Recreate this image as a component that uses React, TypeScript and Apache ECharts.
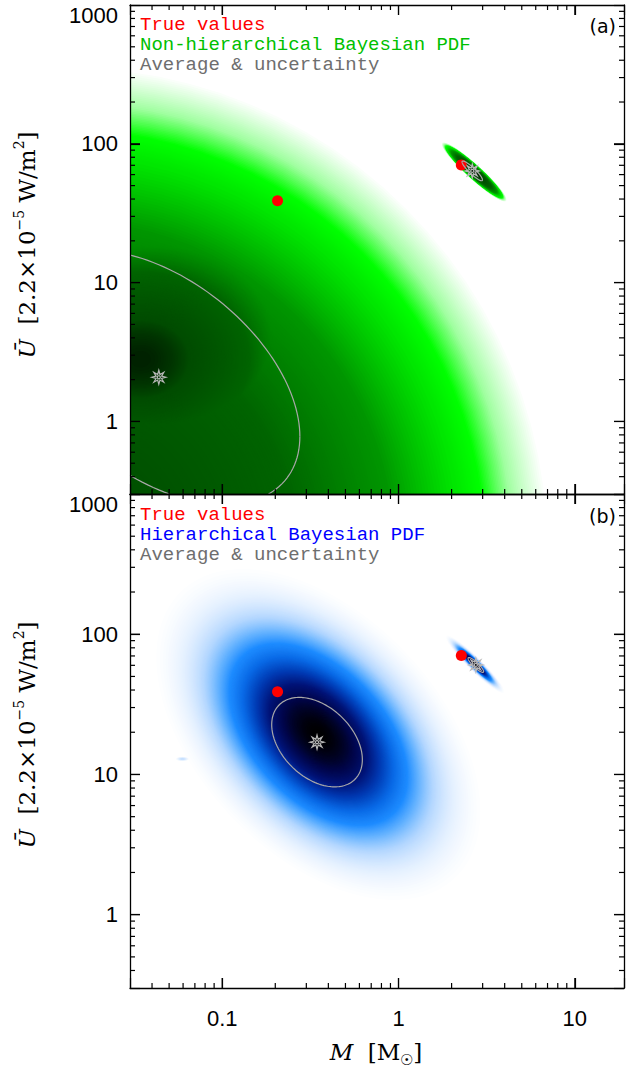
import React, { useEffect, useRef } from 'react';
import * as echarts from 'echarts';

// ---------- axes ----------
const X_RANGE = [0.03, 19];
const Y_RANGE = [0.3, 1000];
const X_MAJOR = [0.1, 1, 10];
const Y_MAJOR = [1, 10, 100];
const X_MINOR = [0.04, 0.05, 0.06, 0.07, 0.08, 0.09, 0.2, 0.3, 0.4, 0.5, 0.6, 0.7, 0.8, 0.9, 2, 3, 4, 5, 6, 7, 8, 9];
const Y_MINOR = [0.4, 0.5, 0.6, 0.7, 0.8, 0.9, 2, 3, 4, 5, 6, 7, 8, 9, 20, 30, 40, 50, 60, 70, 80, 90, 200, 300, 400, 500, 600, 700, 800, 900];

// ---------- true values (red dots) ----------
const TRUE_M = [0.206, 2.27];
const TRUE_U = [38.9, 70.5];

// ---------- averages (gray stars) ----------
const AVG_A_M = [0.0437, 2.62];
const AVG_A_U = [2.08, 63.8];
const AVG_B_M = [0.345, 2.745];
const AVG_B_U = [17.0, 60.4];

// ---------- 1-sigma uncertainty: [sigma log10 M, sigma log10 U, correlation] ----------
const UNC_A = [[0.8, 0.916, -0.465], [0.058, 0.071, -0.91]];
const UNC_B = [[0.257, 0.319, -0.39], [0.044, 0.053, -0.89]];

// ---------- PDF components: [M, U, sigma log10 M, sigma log10 U, correlation, peak] ----------
const PDF_A_MAIN = [0.0129, 0.118, 1.36, 1.73, 0, 0.86];
const PDF_A_CORE = [0.0344, 2.81, 0.57, 0.58, 0, 0.97];
const PDF_A_SMALL = [2.685, 62.7, 0.088, 0.102, -0.947, 1.0];
const PDF_B_MAIN = [0.351, 19.3, 0.317, 0.407, -0.465, 1.0];
const PDF_B_SMALL = [2.72, 61.0, 0.057, 0.071, -0.95, 1.0];
const PDF_B_SPECK = [0.0595, 12.9, 0.02, 0.008, 0, 0.1];

// ---------- colour tables (PDF level -> colour) ----------
const GREEN_STOPS: [number, string][] = [
  [0.112, '#ffffff'], [0.15, '#a0ffa0'], [0.185, '#00ff00'], [0.25, '#00d200'],
  [0.335, '#009600'], [0.54, '#006400'], [0.86, '#004c00'], [0.95, '#002a00'], [1.0, '#001000'],
];
const BLUE_STOPS: [number, string][] = [
  [0.012, '#ffffff'], [0.05, '#e6f1ff'], [0.12, '#b4d7ff'], [0.2, '#64b2ff'], [0.28, '#1e8cff'],
  [0.4, '#0a6ae6'], [0.55, '#0038b0'], [0.68, '#001478'], [0.82, '#00064a'], [1.0, '#000000'],
];

// ---------- texts ----------
const LEGEND_A = ['True values', 'Non-hierarchical Bayesian PDF', 'Average & uncertainty'];
const LEGEND_B = ['True values', 'Hierarchical Bayesian PDF', 'Average & uncertainty'];
const LEGEND_A_COLORS = ['#ff0000', '#00c000', '#6e6e6e'];
const LEGEND_B_COLORS = ['#ff0000', '#0000ff', '#6e6e6e'];
const PANEL_TAGS = ['(a)', '(b)'];

function makeLevels(lo: number, mid: number, fine: number, coarse: number): number[] {
  const out: number[] = [];
  for (let l = lo + fine; l < mid; l += fine) out.push(l);
  for (let l = mid; l < 0.999; l += coarse) out.push(l);
  return out;
}
const LEVELS_GREEN = makeLevels(0.112, 0.22, 0.002, 0.005);
const LEVELS_BLUE = makeLevels(0.012, 0.3, 0.003, 0.005);

function hexToRgb(h: string) {
  const n = parseInt(h.slice(1), 16);
  return [(n >> 16) & 255, (n >> 8) & 255, n & 255];
}
function rampColor(stops: [number, string][], v: number) {
  if (v <= stops[0][0]) return stops[0][1];
  for (let i = 1; i < stops.length; i++) {
    if (v <= stops[i][0]) {
      const [a, ca] = stops[i - 1];
      const [b, cb] = stops[i];
      const t = (v - a) / (b - a);
      const A = hexToRgb(ca);
      const B = hexToRgb(cb);
      const c = A.map((x, j) => Math.round(x + (B[j] - x) * t));
      return `rgb(${c[0]},${c[1]},${c[2]})`;
    }
  }
  return stops[stops.length - 1][1];
}

function ellipsePts(api: any, c: number[], k: number, n = 90) {
  const [m, u, sa, sb, rho] = c;
  const lm = Math.log10(m);
  const lu = Math.log10(u);
  const q = Math.sqrt(1 - rho * rho);
  const pts: number[][] = [];
  for (let i = 0; i < n; i++) {
    const t = (2 * Math.PI * i) / n;
    const z1 = Math.cos(t);
    const z2 = Math.sin(t);
    const lx = lm + k * sa * z1;
    const ly = lu + k * sb * (rho * z1 + q * z2);
    pts.push(api.coord([Math.pow(10, lx), Math.pow(10, ly)]));
  }
  return pts;
}

type Rect = { x: number; y: number; width: number; height: number };
function clipPolygon(pts: number[][], r: Rect) {
  const xmin = r.x, xmax = r.x + r.width, ymin = r.y, ymax = r.y + r.height;
  const clips: [(p: number[]) => boolean, (a: number[], b: number[]) => number[]][] = [
    [(p) => p[0] >= xmin, (a, b) => { const t = (xmin - a[0]) / (b[0] - a[0]); return [xmin, a[1] + t * (b[1] - a[1])]; }],
    [(p) => p[0] <= xmax, (a, b) => { const t = (xmax - a[0]) / (b[0] - a[0]); return [xmax, a[1] + t * (b[1] - a[1])]; }],
    [(p) => p[1] >= ymin, (a, b) => { const t = (ymin - a[1]) / (b[1] - a[1]); return [a[0] + t * (b[0] - a[0]), ymin]; }],
    [(p) => p[1] <= ymax, (a, b) => { const t = (ymax - a[1]) / (b[1] - a[1]); return [a[0] + t * (b[0] - a[0]), ymax]; }],
  ];
  let out = pts;
  for (const [inside, inter] of clips) {
    const inp = out;
    out = [];
    if (!inp.length) break;
    let prev = inp[inp.length - 1];
    for (const cur of inp) {
      const ci = inside(cur);
      const pi = inside(prev);
      if (ci) {
        if (!pi) out.push(inter(prev, cur));
        out.push(cur);
      } else if (pi) out.push(inter(prev, cur));
      prev = cur;
    }
  }
  return out;
}
function clipSeg(a: number[], b: number[], r: Rect) {
  let t0 = 0, t1 = 1;
  const dx = b[0] - a[0], dy = b[1] - a[1];
  const p = [-dx, dx, -dy, dy];
  const q = [a[0] - r.x, r.x + r.width - a[0], a[1] - r.y, r.y + r.height - a[1]];
  for (let i = 0; i < 4; i++) {
    if (p[i] === 0) {
      if (q[i] < 0) return null;
    } else {
      const t = q[i] / p[i];
      if (p[i] < 0) {
        if (t > t1) return null;
        if (t > t0) t0 = t;
      } else {
        if (t < t0) return null;
        if (t < t1) t1 = t;
      }
    }
  }
  return [[a[0] + t0 * dx, a[1] + t0 * dy], [a[0] + t1 * dx, a[1] + t1 * dy]];
}
function clipPolyline(pts: number[][], r: Rect) {
  const runs: number[][][] = [];
  let cur: number[][] | null = null;
  for (let i = 0; i < pts.length - 1; i++) {
    const seg = clipSeg(pts[i], pts[i + 1], r);
    if (!seg) {
      if (cur) { runs.push(cur); cur = null; }
      continue;
    }
    if (cur && Math.abs(cur[cur.length - 1][0] - seg[0][0]) < 1e-6 && Math.abs(cur[cur.length - 1][1] - seg[0][1]) < 1e-6) {
      cur.push(seg[1]);
    } else {
      if (cur) runs.push(cur);
      cur = [seg[0], seg[1]];
    }
  }
  if (cur) runs.push(cur);
  return runs;
}

const STAR_PATH = (() => {
  const pts: string[] = [];
  for (let i = 0; i < 16; i++) {
    const a = (i * Math.PI) / 8 - Math.PI / 2;
    const r = i % 2 === 0 ? 10 : 4.3;
    pts.push(`${(10 + r * Math.cos(a)).toFixed(2)} ${(10 + r * Math.sin(a)).toFixed(2)}`);
  }
  return 'path://M' + pts.join(' L') + ' Z M12.2 10 A2.2 2.2 0 1 1 7.8 10 A2.2 2.2 0 1 1 12.2 10 Z';
})();

const fmtTick = (v: number) => {
  const l = Math.log10(v);
  const r = Math.round(l);
  if (Math.abs(l - r) > 1e-6) return '';
  const s = r < 0 ? Math.pow(10, r).toFixed(-r) : String(Math.round(Math.pow(10, r)));
  return r === 3 ? `{top|${s}}` : s;
};

const GRIDS = [
  { left: 130, top: 5, width: 494, height: 489, outerBoundsMode: 'none' },
  { left: 130, top: 494, width: 494, height: 494, outerBoundsMode: 'none' },
];

function xAxisCfg(grid: number, position: string, showLabel: boolean, visible: boolean) {
  return {
    type: 'log', logBase: 10, gridIndex: grid, position, min: X_RANGE[0], max: X_RANGE[1], z: 10,
    axisLine: { show: visible, onZero: false, lineStyle: { color: '#000', width: 1.3 } },
    axisTick: { show: visible, inside: true, length: 10, lineStyle: { color: '#000', width: 1.2 } },
    minorTick: { show: false }, splitLine: { show: false }, minorSplitLine: { show: false },
    axisLabel: { show: showLabel && visible, margin: 19, color: '#000', fontSize: 22, formatter: fmtTick },
  };
}
function yAxisCfg(grid: number, position: string, showLabel: boolean, visible: boolean) {
  return {
    type: 'log', logBase: 10, gridIndex: grid, position, min: Y_RANGE[0], max: Y_RANGE[1], z: 10,
    axisLine: { show: visible, onZero: false, lineStyle: { color: '#000', width: 1.3 } },
    axisTick: { show: visible, inside: true, length: 10, lineStyle: { color: '#000', width: 1.2 } },
    minorTick: { show: false }, splitLine: { show: false }, minorSplitLine: { show: false },
    axisLabel: {
      show: showLabel && visible, margin: 12, color: '#000', fontSize: 22, formatter: fmtTick,
      rich: { top: { padding: [20, 0, 0, 0], fontSize: 22, color: '#000' } },
    },
  };
}
function axesFor(visible: boolean) {
  return {
    grid: GRIDS,
    xAxis: [xAxisCfg(0, 'bottom', false, visible), xAxisCfg(0, 'top', false, visible), xAxisCfg(1, 'bottom', true, visible), xAxisCfg(1, 'top', false, visible)],
    yAxis: [yAxisCfg(0, 'left', true, visible), yAxisCfg(0, 'right', false, visible), yAxisCfg(1, 'left', true, visible), yAxisCfg(1, 'right', false, visible)],
  };
}

function densitySeries(axisIdx: number, blobs: number[][], stops: [number, string][], levels: number[]) {
  return {
    type: 'custom', xAxisIndex: axisIdx, yAxisIndex: axisIdx, z: 2, silent: true,
    data: levels.map((l) => [l, 1]),
    renderItem: (params: any, api: any) => {
      const cs = params.coordSys as Rect;
      const L = api.value(0) as number;
      const fill = rampColor(stops, L);
      const children: any[] = [];
      for (const b of blobs) {
        const amp = b[5];
        if (amp <= L) continue;
        const k = Math.sqrt(2 * Math.log(amp / L));
        const poly = clipPolygon(ellipsePts(api, b, k, 96), cs);
        if (poly.length >= 3) children.push({ type: 'polygon', shape: { points: poly }, style: { fill } });
      }
      return { type: 'group', children };
    },
  };
}

function ellipseSeries(axisIdx: number, ms: number[], us: number[], unc: number[][]) {
  return {
    type: 'custom', xAxisIndex: axisIdx, yAxisIndex: axisIdx, z: 6, silent: true,
    data: ms.map((m, i) => [m, us[i], unc[i][0], unc[i][1], unc[i][2]]),
    renderItem: (params: any, api: any) => {
      const cs = params.coordSys as Rect;
      const c = [api.value(0), api.value(1), api.value(2), api.value(3), api.value(4)] as number[];
      const pts = ellipsePts(api, c, 1, 160);
      pts.push(pts[0]);
      const runs = clipPolyline(pts, cs);
      return {
        type: 'group',
        children: runs.map((r) => ({ type: 'polyline', shape: { points: r }, style: { stroke: '#a8a8a8', lineWidth: 1.2, fill: 'none' } })),
      };
    },
  };
}

function tickSeries(axisIdx: number) {
  const data = [
    ...X_MAJOR.map((v) => [v, Y_RANGE[0], 0, 10]),
    ...X_MINOR.map((v) => [v, Y_RANGE[0], 0, 5]),
    ...Y_MAJOR.map((v) => [X_RANGE[0], v, 1, 10]),
    ...Y_MINOR.map((v) => [X_RANGE[0], v, 1, 5]),
  ];
  return {
    type: 'custom', xAxisIndex: axisIdx, yAxisIndex: axisIdx, z: 12, silent: true,
    data,
    renderItem: (params: any, api: any) => {
      const cs = params.coordSys as Rect;
      const kind = api.value(2);
      const len = api.value(3) as number;
      const st = { stroke: '#000', lineWidth: 1.2 };
      if (kind === 0) {
        const px = api.coord([api.value(0), Y_RANGE[0]])[0];
        const yb = cs.y + cs.height;
        return {
          type: 'group', children: [
            { type: 'line', shape: { x1: px, y1: yb, x2: px, y2: yb - len }, style: { ...st } },
            { type: 'line', shape: { x1: px, y1: cs.y, x2: px, y2: cs.y + len }, style: { ...st } },
          ],
        };
      }
      const py = api.coord([X_RANGE[0], api.value(1)])[1];
      const xr = cs.x + cs.width;
      return {
        type: 'group', children: [
          { type: 'line', shape: { x1: cs.x, y1: py, x2: cs.x + len, y2: py }, style: { ...st } },
          { type: 'line', shape: { x1: xr, y1: py, x2: xr - len, y2: py }, style: { ...st } },
        ],
      };
    },
  };
}

function trueSeries(axisIdx: number) {
  return {
    type: 'scatter', xAxisIndex: axisIdx, yAxisIndex: axisIdx, z: 5, silent: true, clip: false,
    symbol: 'circle', symbolSize: 11,
    itemStyle: { color: '#ff0000', opacity: 1 },
    data: TRUE_M.map((m, i) => [m, TRUE_U[i]]),
  };
}
function starSeries(axisIdx: number, ms: number[], us: number[]) {
  return {
    type: 'scatter', xAxisIndex: axisIdx, yAxisIndex: axisIdx, z: 7, silent: true, clip: false,
    symbol: STAR_PATH, symbolSize: 14, symbolKeepAspect: true,
    itemStyle: { color: 'rgba(0,0,0,0)', borderColor: '#b8b8b8', borderWidth: 1.2, opacity: 1 },
    data: ms.map((m, i) => [m, us[i]]),
  };
}

function legendTexts(texts: string[], colors: string[], y0: number) {
  return texts.map((t, i) => ({
    type: 'text', x: 140, y: y0 + i * 20, z: 100,
    style: { text: t, fill: colors[i], fontFamily: 'Liberation Mono', fontSize: 19, verticalAlign: 'middle', align: 'left' },
  }));
}

const TITLE_FONT = 'DejaVu Serif';
const yTitleRich = {
  i: { fontFamily: TITLE_FONT, fontSize: 23, fontStyle: 'italic', fill: '#000', lineHeight: 30 },
  sup: { fontFamily: TITLE_FONT, fontSize: 14, fill: '#000', verticalAlign: 'top', lineHeight: 14 },
};
function yTitle(cy: number) {
  return {
    type: 'text', x: 27, y: cy, rotation: Math.PI / 2, z: 100,
    style: {
      text: '{i|Ū}  [2.2×10{sup|−5} W/m{sup|2}]', rich: yTitleRich,
      fontFamily: TITLE_FONT, fontSize: 23, fill: '#000', lineHeight: 30, align: 'center', verticalAlign: 'middle',
    },
  };
}

export default function App() {
  const baseRef = useRef<HTMLDivElement>(null);
  const topRef = useRef<HTMLDivElement>(null);
  useEffect(() => {
    if (!baseRef.current || !topRef.current) return;
    const base = echarts.init(baseRef.current, undefined, { renderer: 'svg' });
    base.setOption({
      animation: false,
      backgroundColor: '#ffffff',
      ...axesFor(false),
      series: [
        densitySeries(0, [PDF_A_MAIN, PDF_A_CORE, PDF_A_SMALL], GREEN_STOPS, LEVELS_GREEN),
        densitySeries(2, [PDF_B_MAIN, PDF_B_SMALL, PDF_B_SPECK], BLUE_STOPS, LEVELS_BLUE),
      ],
    });
    const top = echarts.init(topRef.current, undefined, { renderer: 'svg' });
    top.setOption({
      animation: false,
      ...axesFor(true),
      series: [
        trueSeries(0),
        trueSeries(2),
        ellipseSeries(0, AVG_A_M, AVG_A_U, UNC_A),
        ellipseSeries(2, AVG_B_M, AVG_B_U, UNC_B),
        starSeries(0, AVG_A_M, AVG_A_U),
        starSeries(2, AVG_B_M, AVG_B_U),
        tickSeries(0),
        tickSeries(2),
      ],
      graphic: [
        ...legendTexts(LEGEND_A, LEGEND_A_COLORS, 25),
        ...legendTexts(LEGEND_B, LEGEND_B_COLORS, 515),
        { type: 'text', x: 616, y: 26, z: 100, style: { text: PANEL_TAGS[0], fill: '#000', fontFamily: 'DejaVu Sans', fontSize: 19, align: 'right', verticalAlign: 'middle' } },
        { type: 'text', x: 616, y: 516, z: 100, style: { text: PANEL_TAGS[1], fill: '#000', fontFamily: 'DejaVu Sans', fontSize: 19, align: 'right', verticalAlign: 'middle' } },
        yTitle(245),
        yTitle(735),
        {
          type: 'text', x: 376, y: 1052, z: 100,
          style: {
            text: '{i|M}  [M{sub|☉}]',
            rich: {
              i: { fontFamily: TITLE_FONT, fontSize: 23, fontStyle: 'italic', fill: '#000', lineHeight: 30 },
              sub: { fontFamily: TITLE_FONT, fontSize: 15, fill: '#000', verticalAlign: 'bottom', lineHeight: 15 },
            },
            fontFamily: TITLE_FONT, fontSize: 23, fill: '#000', lineHeight: 30, align: 'center', verticalAlign: 'middle',
          },
        },
      ],
    });
    return () => {
      top.dispose();
      base.dispose();
    };
  }, []);
  const box: React.CSSProperties = { position: 'fixed', left: 0, top: 0, width: 627, height: 1068 };
  return (
    <div>
      <div ref={baseRef} style={{ ...box, background: '#fff' }} />
      <div ref={topRef} style={box} />
    </div>
  );
}
